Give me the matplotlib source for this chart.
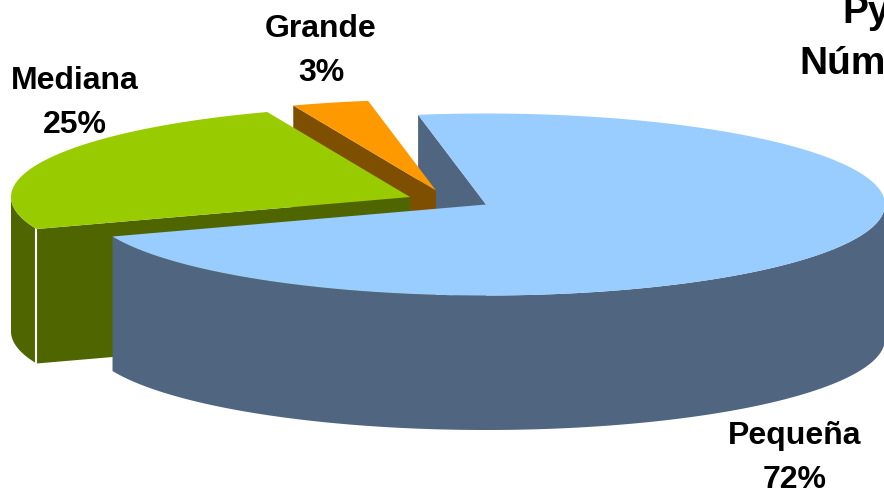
import numpy as np
import matplotlib
matplotlib.use("Agg")
import matplotlib.pyplot as plt
from matplotlib.patches import Polygon

categories = ["Pequeña", "Mediana", "Grande"]
shares = [72, 24.9, 3.1]
top_colors = ["#99CCFF", "#99CC00", "#FF9900"]
side_colors = ["#4F6580", "#4F6600", "#7F4F00"]
label_texts = ["Pequeña\n72%", "Mediana\n25%", "Grande\n3%"]
label_positions = [(795, 458), (75, 103), (321, 51)]
centers = [(486, 204.5), (410, 197), (436, 190.5)]
title_parts = [("Py", 842, 13), ("Núm", 799, 64)]

A, B, DEPTH, START = 399, 91, 134.5, -9.8

W, H = 884, 491
fig = plt.figure(figsize=(W / 100, H / 100), dpi=100)
ax = fig.add_axes([0, 0, 1, 1])
ax.set_xlim(0, W)
ax.set_ylim(H, 0)
ax.axis("off")

plt.rcParams["font.family"] = ["Liberation Sans", "DejaVu Sans"]

edges = START + np.cumsum([0] + shares) * 3.6
wedges = {c: (edges[i], edges[i + 1], centers[i]) for i, c in enumerate(categories)}
style = {c: (top_colors[i], side_colors[i]) for i, c in enumerate(categories)}


def rim(center, a0, a1, n=240):
    t = np.radians(np.linspace(a0, a1, n))
    return np.column_stack([center[0] + A * np.sin(t), center[1] - B * np.cos(t)])


def add(pts, color, z, edge="none", lw=0):
    ax.add_patch(Polygon(pts, closed=True, fc=color, ec=edge, lw=lw, zorder=z))


def top(cat, z):
    a0, a1, c = wedges[cat]
    add(np.vstack([[c], rim(c, a0, a1)]), style[cat][0], z)


def radial_wall(cat, angle, z):
    _, _, c = wedges[cat]
    p = rim(c, angle, angle, 1)[0]
    add([c, p, p + [0, DEPTH], np.array(c) + [0, DEPTH]], style[cat][1], z)


def outer_wall(cat, a0, a1, z):
    _, _, c = wedges[cat]
    r = rim(c, a0, a1)
    add(np.vstack([r, (r + [0, DEPTH])[::-1]]), style[cat][1], z)


# back to front
radial_wall("Pequeña", wedges["Pequeña"][0], 1)
radial_wall("Grande", wedges["Grande"][0], 2)
top("Grande", 3)
outer_wall("Mediana", 270, wedges["Mediana"][0], 4)
radial_wall("Mediana", wedges["Mediana"][0], 5)
top("Mediana", 6)
outer_wall("Pequeña", 90, wedges["Pequeña"][1], 7)
top("Pequeña", 8)

# white seam on the Mediana corner
corner = rim(wedges["Mediana"][2], wedges["Mediana"][0], wedges["Mediana"][0], 1)[0]
ax.plot([corner[0] - 1] * 2, [corner[1], corner[1] + DEPTH], color="white", lw=1.5, zorder=5.5)

for txt, (x, y) in zip(label_texts, label_positions):
    ax.text(x, y, txt, ha="center", va="center", fontsize=23, fontweight="bold",
            color="black", linespacing=1.65, zorder=10)
for txt, x, y in title_parts:
    ax.text(x, y, txt, ha="left", va="center", fontsize=28, fontweight="bold",
            color="black", zorder=10)

fig.savefig("out.png", dpi=100)
